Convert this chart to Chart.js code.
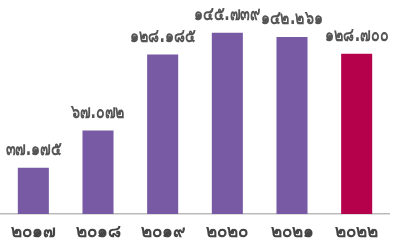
<!DOCTYPE html>
<html>
<head>
<meta charset="utf-8">
<script src="https://cdn.jsdelivr.net/npm/chart.js@4"></script>
<style>
  html, body { margin: 0; padding: 0; background: #fff; }
  #wrap { width: 394px; height: 243px; }
</style>
</head>
<body>
<div id="wrap"><canvas id="chart" width="394" height="243"></canvas></div>
<script>
const years = ["๒๐๑๗", "๒๐๑๘", "๒๐๑๙", "๒๐๒๐", "๒๐๒๑", "๒๐๒๒"];
const values = [37.175, 67.072, 128.185, 145.739, 142.261, 128.7];
const barColors = ["#7759a4", "#7759a4", "#7759a4", "#7759a4", "#7759a4", "#b5004b"];

const thaiDigits = "๐๑๒๓๔๕๖๗๘๙";
function toThai(n) {
  return n.toFixed(3).replace(/[0-9]/g, (d) => thaiDigits[+d]);
}

// value labels above bars, squeezed a little to look like the condensed font
const valueLabels = {
  id: "valueLabels",
  afterDatasetsDraw(chart) {
    const ctx = chart.ctx;
    const meta = chart.getDatasetMeta(0);
    const sx = 0.75;
    ctx.save();
    ctx.font = "bold 19px 'DejaVu Sans', sans-serif";
    ctx.fillStyle = "#555";
    ctx.textAlign = "center";
    ctx.textBaseline = "bottom";
    meta.data.forEach((bar, i) => {
      ctx.save();
      ctx.translate(bar.x, bar.y - 8);
      ctx.scale(sx, 1);
      ctx.fillText(toThai(values[i]), 0, 0);
      ctx.restore();
    });
    ctx.restore();
  },
};

new Chart(document.getElementById("chart").getContext("2d"), {
  type: "bar",
  data: {
    labels: years,
    datasets: [
      {
        data: values,
        backgroundColor: barColors,
        barPercentage: 0.48,
        categoryPercentage: 1,
      },
    ],
  },
  options: {
    responsive: false,
    animation: false,
    layout: { padding: { left: 1, right: 5, top: 0, bottom: 0 } },
    plugins: { legend: { display: false }, tooltip: { enabled: false } },
    scales: {
      x: {
        grid: { display: false },
        border: { color: "#bbb", width: 1.5 },
        ticks: {
          color: "#444",
          padding: 2,
          font: { family: "'DejaVu Sans', sans-serif", size: 17, weight: "bold", lineHeight: 1 },
        },
      },
      y: { display: false, min: 0, max: 172 },
    },
  },
  plugins: [valueLabels],
});
</script>
</body>
</html>
